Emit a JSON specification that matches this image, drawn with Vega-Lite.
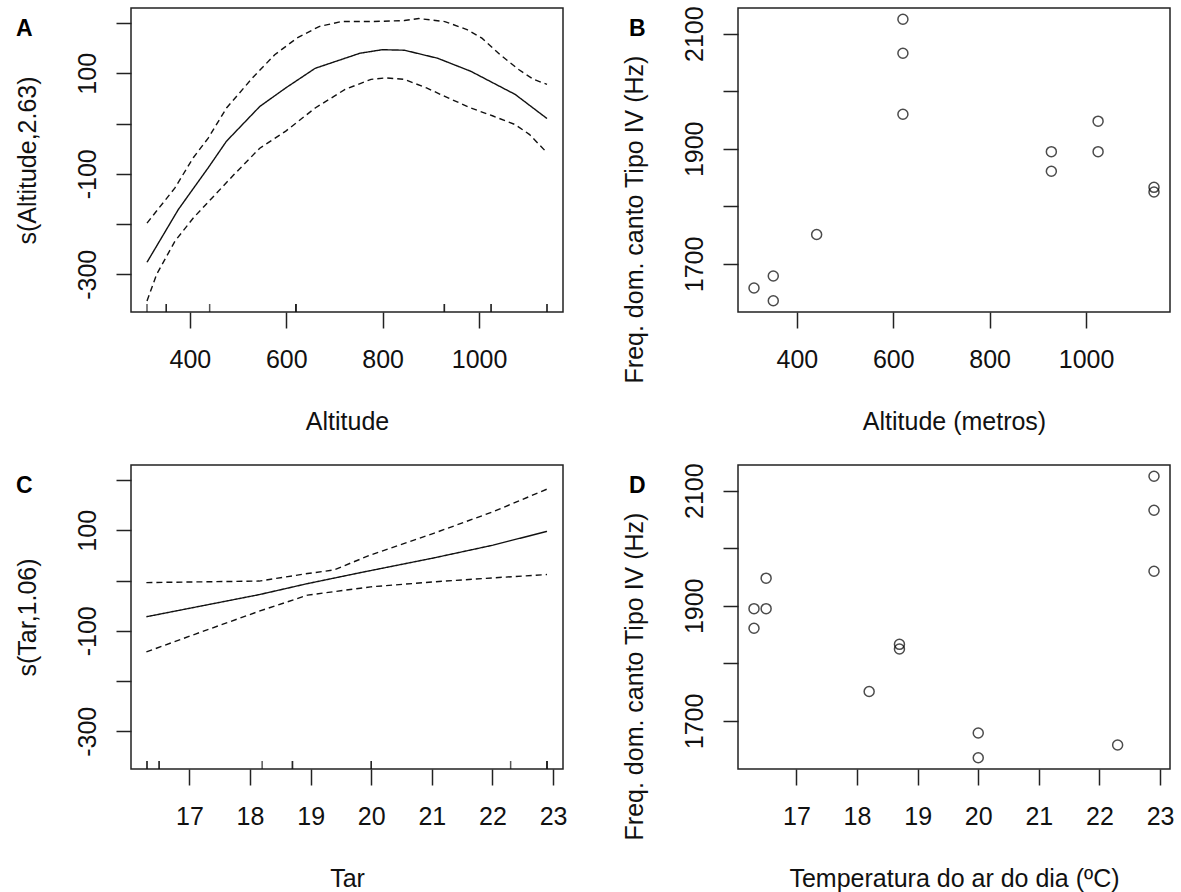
{
  "$schema": "https://vega.github.io/schema/vega-lite/v6.json",
  "background": "white",
  "padding": {"left": 14, "top": 5, "right": 0, "bottom": 0},
  "datasets": {
    "obs": [
      {"alt": 311, "temp": 22.3, "freq": 1658},
      {"alt": 351, "temp": 20.0, "freq": 1679},
      {"alt": 351, "temp": 20.0, "freq": 1636},
      {"alt": 441, "temp": 18.2, "freq": 1751},
      {"alt": 620, "temp": 22.9, "freq": 2125},
      {"alt": 620, "temp": 22.9, "freq": 2066},
      {"alt": 620, "temp": 22.9, "freq": 1960},
      {"alt": 928, "temp": 16.3, "freq": 1895},
      {"alt": 928, "temp": 16.3, "freq": 1861},
      {"alt": 1025, "temp": 16.5, "freq": 1948},
      {"alt": 1025, "temp": 16.5, "freq": 1895},
      {"alt": 1141, "temp": 18.7, "freq": 1833},
      {"alt": 1141, "temp": 18.7, "freq": 1825}
    ],
    "curveA": [
      {"line": "fit", "alt": 311, "val": -276},
      {"line": "fit", "alt": 376, "val": -171},
      {"line": "fit", "alt": 438, "val": -88},
      {"line": "fit", "alt": 476, "val": -35},
      {"line": "fit", "alt": 545, "val": 34},
      {"line": "fit", "alt": 599, "val": 71},
      {"line": "fit", "alt": 660, "val": 110},
      {"line": "fit", "alt": 753, "val": 140},
      {"line": "fit", "alt": 799, "val": 147},
      {"line": "fit", "alt": 845, "val": 146},
      {"line": "fit", "alt": 914, "val": 130},
      {"line": "fit", "alt": 983, "val": 104},
      {"line": "fit", "alt": 1075, "val": 58},
      {"line": "fit", "alt": 1141, "val": 10},
      {"line": "upper", "alt": 311, "val": -198},
      {"line": "upper", "alt": 369, "val": -128},
      {"line": "upper", "alt": 407, "val": -68},
      {"line": "upper", "alt": 438, "val": -29},
      {"line": "upper", "alt": 476, "val": 31},
      {"line": "upper", "alt": 530, "val": 91},
      {"line": "upper", "alt": 576, "val": 137},
      {"line": "upper", "alt": 622, "val": 170},
      {"line": "upper", "alt": 668, "val": 193},
      {"line": "upper", "alt": 714, "val": 203},
      {"line": "upper", "alt": 776, "val": 203},
      {"line": "upper", "alt": 845, "val": 205},
      {"line": "upper", "alt": 875, "val": 209},
      {"line": "upper", "alt": 929, "val": 203},
      {"line": "upper", "alt": 975, "val": 187},
      {"line": "upper", "alt": 1006, "val": 170},
      {"line": "upper", "alt": 1044, "val": 137},
      {"line": "upper", "alt": 1083, "val": 107},
      {"line": "upper", "alt": 1113, "val": 88},
      {"line": "upper", "alt": 1141, "val": 78},
      {"line": "lower", "alt": 311, "val": -353},
      {"line": "lower", "alt": 331, "val": -300},
      {"line": "lower", "alt": 369, "val": -234},
      {"line": "lower", "alt": 407, "val": -188},
      {"line": "lower", "alt": 446, "val": -148},
      {"line": "lower", "alt": 492, "val": -101},
      {"line": "lower", "alt": 545, "val": -49},
      {"line": "lower", "alt": 599, "val": -15},
      {"line": "lower", "alt": 660, "val": 31},
      {"line": "lower", "alt": 722, "val": 68},
      {"line": "lower", "alt": 776, "val": 88},
      {"line": "lower", "alt": 806, "val": 91},
      {"line": "lower", "alt": 845, "val": 88},
      {"line": "lower", "alt": 891, "val": 71},
      {"line": "lower", "alt": 929, "val": 54},
      {"line": "lower", "alt": 983, "val": 31},
      {"line": "lower", "alt": 1029, "val": 15},
      {"line": "lower", "alt": 1075, "val": -2},
      {"line": "lower", "alt": 1105, "val": -22},
      {"line": "lower", "alt": 1141, "val": -58}
    ],
    "curveC": [
      {"line": "fit", "temp": 16.29, "val": -72},
      {"line": "fit", "temp": 18.15, "val": -28},
      {"line": "fit", "temp": 18.95, "val": -6},
      {"line": "fit", "temp": 19.87, "val": 17},
      {"line": "fit", "temp": 21.03, "val": 45},
      {"line": "fit", "temp": 22.01, "val": 70.5},
      {"line": "fit", "temp": 22.9, "val": 98},
      {"line": "upper", "temp": 16.29, "val": -4},
      {"line": "upper", "temp": 18.15, "val": -1},
      {"line": "upper", "temp": 18.95, "val": 14},
      {"line": "upper", "temp": 19.38, "val": 21},
      {"line": "upper", "temp": 19.99, "val": 51},
      {"line": "upper", "temp": 21.03, "val": 94},
      {"line": "upper", "temp": 22.01, "val": 137},
      {"line": "upper", "temp": 22.9, "val": 182},
      {"line": "lower", "temp": 16.29, "val": -142},
      {"line": "lower", "temp": 17.11, "val": -106},
      {"line": "lower", "temp": 18.15, "val": -61},
      {"line": "lower", "temp": 18.95, "val": -29},
      {"line": "lower", "temp": 19.99, "val": -12.5},
      {"line": "lower", "temp": 21.03, "val": -2.6},
      {"line": "lower", "temp": 22.01, "val": 5.4},
      {"line": "lower", "temp": 22.9, "val": 12}
    ]
  },
  "config": {
    "font": "Liberation Sans",
    "view": {"stroke": "#222", "strokeWidth": 1.5},
    "axis": {
      "domain": false,
      "grid": false,
      "tickColor": "#222",
      "tickWidth": 1.5,
      "labelFont": "Liberation Sans",
      "labelFontSize": 25,
      "labelColor": "#111",
      "titleFont": "Liberation Sans",
      "titleFontSize": 25,
      "titleFontWeight": "normal",
      "titleColor": "#111",
      "labelOverlap": false,
      "labelFlush": false,
      "labelBound": false
    },
    "axisX": {
      "tickSize": 16,
      "labelPadding": 39,
      "labelAngle": 0,
      "labelAlign": "center",
      "labelBaseline": "alphabetic",
      "titleBaseline": "alphabetic",
      "titleY": 117.6
    },
    "axisY": {
      "tickSize": 15,
      "labelPadding": 21,
      "labelAngle": -90,
      "labelAlign": "center",
      "labelBaseline": "alphabetic",
      "titleAngle": -90,
      "titleAlign": "center",
      "titleBaseline": "alphabetic",
      "titleX": -96
    },
    "title": {
      "font": "Liberation Sans",
      "fontSize": 23,
      "fontWeight": "bold",
      "color": "#000",
      "anchor": "start",
      "frame": "group",
      "orient": "top",
      "baseline": "alphabetic",
      "offset": 0
    }
  },
  "columns": 2,
  "spacing": {"row": 153, "column": 175},
  "bounds": "flush",
  "concat": [
    {
      "width": 432,
      "height": 304,
      "title": {"text": "A", "dx": -115, "dy": 37},
      "layer": [
        {
          "data": {"name": "curveA"},
          "mark": {"type": "line", "color": "#111", "strokeWidth": 1.4, "clip": true},
          "encoding": {
            "x": {"field": "alt", "type": "quantitative", "scale": {"domain": [277.8, 1174.2], "nice": false, "zero": false},
                  "axis": {"title": "Altitude", "values": [400, 600, 800, 1000], "format": "d"}},
            "y": {"field": "val", "type": "quantitative", "scale": {"domain": [-375, 230], "nice": false, "zero": false},
                  "axis": {"title": "s(Altitude,2.63)", "values": [-300, -200, -100, 0, 100, 200],
                           "labelExpr": "datum.value == 100 ? '100' : datum.value == -100 ? '-100' : datum.value == -300 ? '-300' : ''"}},
            "strokeDash": {"field": "line", "type": "nominal", "scale": {"domain": ["fit", "lower", "upper"], "range": [[1, 0], [6, 4], [6, 4]]}, "legend": null}
          }
        },
        {
          "data": {"name": "obs"},
          "mark": {"type": "tick", "orient": "vertical", "clip": true, "color": "#111", "size": 16, "thickness": 1.5},
          "encoding": {
            "x": {"field": "alt", "type": "quantitative"},
            "y": {"datum": -375}
          }
        }
      ]
    },
    {
      "width": 432,
      "height": 304,
      "title": {"text": "B", "dx": -109, "dy": 39},
      "data": {"name": "obs"},
      "mark": {"type": "point", "shape": "circle", "filled": false, "color": "#000", "size": 100, "strokeWidth": 1.5},
      "encoding": {
        "x": {"field": "alt", "type": "quantitative", "scale": {"domain": [277.8, 1174.2], "nice": false, "zero": false},
              "axis": {"title": "Altitude (metros)", "values": [400, 600, 800, 1000], "format": "d"}},
        "y": {"field": "freq", "type": "quantitative", "scale": {"domain": [1616.4, 2144.6], "nice": false, "zero": false},
              "axis": {"title": "Freq. dom. canto Tipo IV (Hz)", "titleY": 211, "values": [1700, 1800, 1900, 2000, 2100], "format": "d",
                       "labelExpr": "datum.value == 1800 || datum.value == 2000 ? '' : datum.label"}}
      }
    },
    {
      "width": 432,
      "height": 304,
      "title": {"text": "C", "dx": -115, "dy": 37},
      "layer": [
        {
          "data": {"name": "curveC"},
          "mark": {"type": "line", "color": "#111", "strokeWidth": 1.4, "clip": true},
          "encoding": {
            "x": {"field": "temp", "type": "quantitative", "scale": {"domain": [16.036, 23.164], "nice": false, "zero": false},
                  "axis": {"title": "Tar", "values": [17, 18, 19, 20, 21, 22, 23], "format": "d"}},
            "y": {"field": "val", "type": "quantitative", "scale": {"domain": [-375, 230], "nice": false, "zero": false},
                  "axis": {"title": "s(Tar,1.06)", "values": [-300, -200, -100, 0, 100, 200],
                           "labelExpr": "datum.value == 100 ? '100' : datum.value == -100 ? '-100' : datum.value == -300 ? '-300' : ''"}},
            "strokeDash": {"field": "line", "type": "nominal", "scale": {"domain": ["fit", "lower", "upper"], "range": [[1, 0], [6, 4], [6, 4]]}, "legend": null}
          }
        },
        {
          "data": {"name": "obs"},
          "mark": {"type": "tick", "orient": "vertical", "clip": true, "color": "#111", "size": 16, "thickness": 1.5},
          "encoding": {
            "x": {"field": "temp", "type": "quantitative"},
            "y": {"datum": -375}
          }
        }
      ]
    },
    {
      "width": 432,
      "height": 304,
      "title": {"text": "D", "dx": -109, "dy": 39},
      "data": {"name": "obs"},
      "mark": {"type": "point", "shape": "circle", "filled": false, "color": "#000", "size": 100, "strokeWidth": 1.5},
      "encoding": {
        "x": {"field": "temp", "type": "quantitative", "scale": {"domain": [16.036, 23.164], "nice": false, "zero": false},
              "axis": {"title": "Temperatura do ar do dia (ºC)", "values": [17, 18, 19, 20, 21, 22, 23], "format": "d"}},
        "y": {"field": "freq", "type": "quantitative", "scale": {"domain": [1616.4, 2144.6], "nice": false, "zero": false},
              "axis": {"title": "Freq. dom. canto Tipo IV (Hz)", "titleY": 211, "values": [1700, 1800, 1900, 2000, 2100], "format": "d",
                       "labelExpr": "datum.value == 1800 || datum.value == 2000 ? '' : datum.label"}}
      }
    }
  ]
}
